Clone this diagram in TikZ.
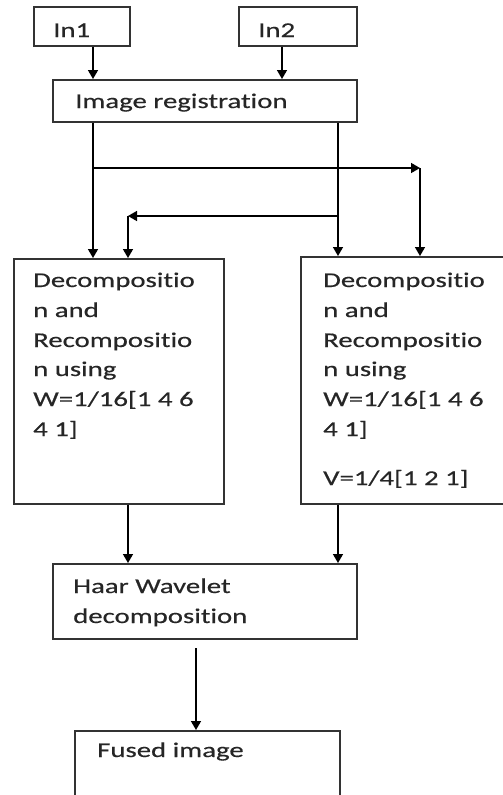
\documentclass[tikz,border=0pt]{standalone}
\usepackage{fontspec}
\setmainfont{Carlito}[FakeStretch=1.37, FakeBold=0.4, Ligatures={NoCommon}]
\usetikzlibrary{arrows.meta}
\begin{document}
\begin{tikzpicture}[x=1pt,y=-1pt,
  box/.style 2 args={draw=black!80, line width=1.5pt, anchor=north west, inner sep=0pt, minimum width=#1, minimum height=#2},
  txt/.style={anchor=base west, inner sep=0pt, font=\fontsize{21}{25}\selectfont, text=black!85},
  arr/.style={-{Triangle[width=10pt,length=9pt]}, line width=1.5pt, black}]
\clip (0,0) rectangle (503,795);
\fill[white] (0,0) rectangle (503,795);
% boxes
\node[box={96}{39}] (in1) at (33,6) {};
\node[box={118}{39}] (in2) at (238,6) {};
\node[box={304}{42}] (reg) at (52,79) {};
\node[box={210}{245}] (decL) at (13,258) {};
\node[box={220}{247}] (decR) at (300,256) {};
\node[box={304}{75}] (haar) at (52,563) {};
\node[box={265}{80}] (fused) at (74,730) {};
% texts
\node[txt] (t1) at (53,37) {In1};
\node[txt] (t2) at (258,37) {In2};
\node[txt] (t3) at (75,108) {Image registration};
\node[txt] (la) at (33,287) {Decompositio};
\node[txt] (lb) at (33,317) {n and};
\node[txt] (lc) at (33,347) {Recompositio};
\node[txt] (le) at (33,376) {n using};
\node[txt] (lf) at (33,406) {W=1/16[1 4 6};
\node[txt] (lg) at (33,436) {4 1]};
\node[txt] (ra) at (323,287) {Decompositio};
\node[txt] (rb) at (323,317) {n and};
\node[txt] (rc) at (323,347) {Recompositio};
\node[txt] (re) at (323,376) {n using};
\node[txt] (rf) at (323,406) {W=1/16[1 4 6};
\node[txt] (rg) at (323,436) {4 1]};
\node[txt] (rv) at (323,485) {V=1/4[1 2 1]};
\node[txt] (h1) at (73,593) {Haar Wavelet};
\node[txt] (h2) at (73,623) {decomposition};
\node[txt] (fu) at (97,757) {Fused image};
% connectors
\draw[arr] (93,0 |- in1.south) -- (93,0 |- reg.north);
\draw[arr] (282,0 |- in2.south) -- (282,0 |- reg.north);
\draw[arr] (93,0 |- reg.south) -- (93,0 |- decL.north);
\draw[arr] (338,0 |- reg.south) -- (338,0 |- decR.north);
\coordinate (b1) at (93,168);
\coordinate (b1e) at (420,168);
\draw[arr] (b1) -- (b1e);
\draw[arr] (b1e) -- (b1e |- decR.north);
\coordinate (b2) at (338,216);
\coordinate (b2e) at (128,216);
\draw[arr] (b2) -- (b2e);
\draw[arr] (b2e) -- (b2e |- decL.north);
\draw[arr] (128,0 |- decL.south) -- (128,0 |- haar.north);
\draw[arr] (338,0 |- decR.south) -- (338,0 |- haar.north);
\coordinate (hs) at (196,648);
\draw[arr] (hs) -- (hs |- fused.north);
\end{tikzpicture}
\end{document}
